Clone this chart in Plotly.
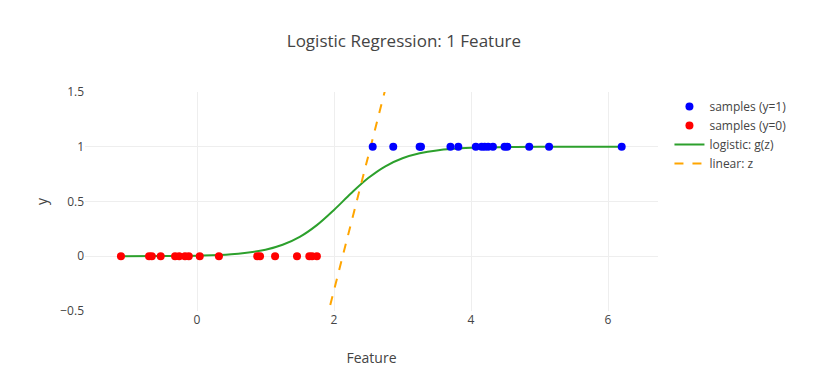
import plotly.graph_objects as go

# samples with label 1
x_pos = [2.565, 2.865, 3.25, 3.27, 3.70, 3.815, 4.07, 4.155, 4.20, 4.25, 4.32, 4.49, 4.53, 4.85, 5.14, 6.20]
y_pos = [1] * len(x_pos)

# samples with label 0
x_neg = [-1.11, -0.70, -0.66, -0.53, -0.32, -0.26, -0.175, -0.12, 0.04, 0.32, 0.88, 0.92, 1.14, 1.46, 1.64, 1.68, 1.75]
y_neg = [0] * len(x_neg)

# logistic curve values
x_curve = [-1.11, -0.5, 0.0, 0.5, 1.0, 1.25, 1.5, 1.75, 2.0, 2.25, 2.5, 2.75, 3.0, 3.25, 3.5, 4.0, 4.5, 5.0, 6.2]
g_curve = [0.0004, 0.0016, 0.0054, 0.0183, 0.0595, 0.1046, 0.177, 0.2844, 0.4231, 0.5751, 0.714, 0.8216,
           0.8947, 0.940, 0.9666, 0.9899, 0.997, 0.9991, 1.0]

# linear z endpoints
x_lin = [-1.11, 6.2]
z_lin = [-7.93, 9.98]

fig = go.Figure()
fig.add_trace(go.Scatter(x=x_curve, y=g_curve, mode="lines", name="logistic: g(z)", legendrank=3,
                         line=dict(color="#2ca02c", width=2, shape="spline")))
fig.add_trace(go.Scatter(x=x_lin, y=z_lin, mode="lines", name="linear: z", legendrank=4,
                         line=dict(color="orange", width=2, dash="dash")))
fig.add_trace(go.Scatter(x=x_pos, y=y_pos, mode="markers", name="samples (y=1)", legendrank=1,
                         marker=dict(color="blue", size=8)))
fig.add_trace(go.Scatter(x=x_neg, y=y_neg, mode="markers", name="samples (y=0)", legendrank=2,
                         marker=dict(color="red", size=8)))

fig.update_layout(
    width=821, height=367,
    template="none",
    paper_bgcolor="white", plot_bgcolor="white",
    font=dict(family="Open Sans", size=12, color="#444"),
    title=dict(text="Logistic Regression: 1 Feature", x=0.492, y=0.905, xanchor="center",
               font=dict(size=17, color="#444")),
    margin=dict(l=85, r=163, t=92, b=56),
    xaxis=dict(title=dict(text="Feature", font=dict(size=14)), range=[-1.635, 6.73],
               showgrid=True, gridcolor="#eee", zeroline=False, showline=False,
               tickvals=[0, 2, 4, 6], ticks=""),
    yaxis=dict(title=dict(text="y", font=dict(size=14)), range=[-0.5, 1.5],
               showgrid=True, gridcolor="#eee", zeroline=False, showline=False,
               tickvals=[-0.5, 0, 0.5, 1, 1.5], ticktext=["\u22120.5", "0", "0.5", "1", "1.5"], ticks=""),
    legend=dict(x=1.02, y=1, xanchor="left", yanchor="top", font=dict(size=12)),
)
fig.write_html("out.html")
